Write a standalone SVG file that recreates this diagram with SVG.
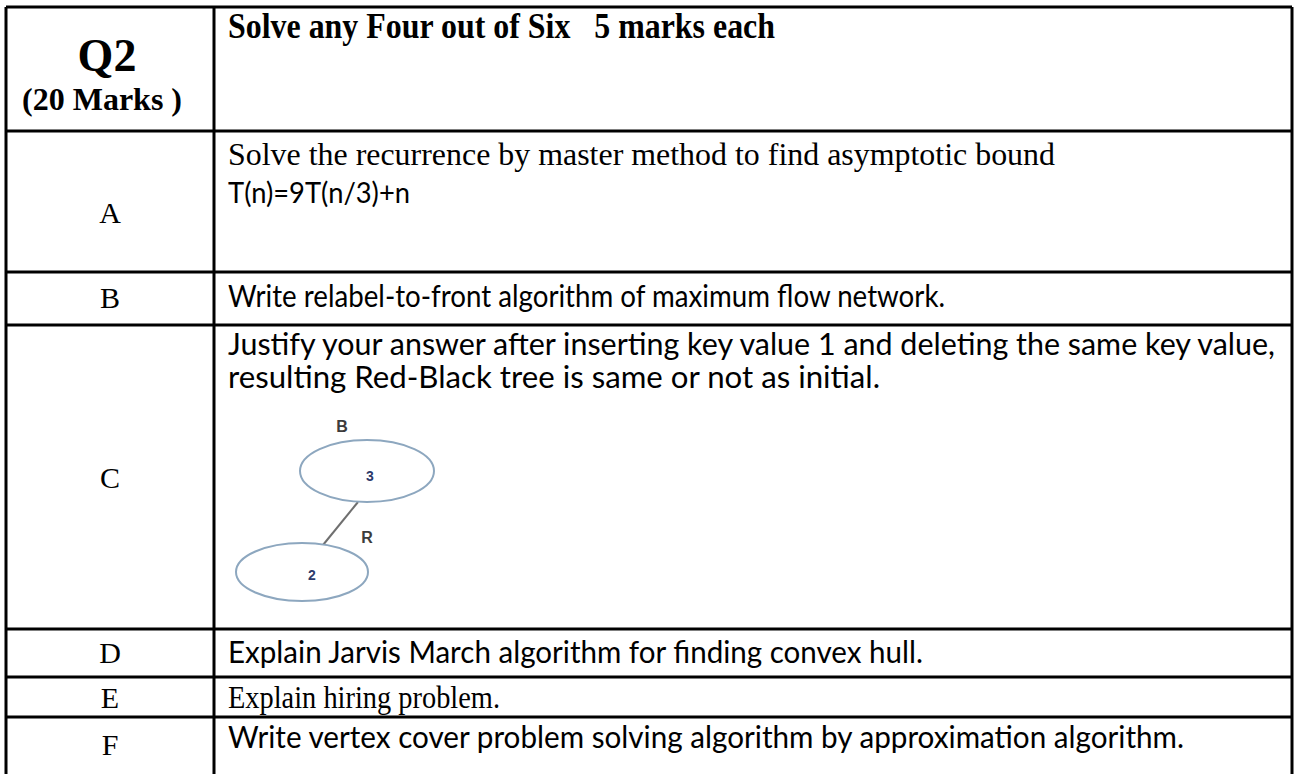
<svg xmlns="http://www.w3.org/2000/svg" width="1295" height="774" viewBox="0 0 1295 774">
  <style>
    .grid { stroke: #000; stroke-width: 3; fill: none; }
    .serif { font-family: "Liberation Serif", "Times New Roman", serif; font-size: 30px; fill: #000; }
    .tall { font-size: 32px; }
    .bold { font-weight: bold; }
    .sans { font-family: Lato, "Liberation Sans", sans-serif; font-size: 30px; fill: #000; }
    .label { text-anchor: middle; }
    .node { fill: #fff; stroke: #8da7bf; stroke-width: 2; }
    .edge { stroke: #6f6f6f; stroke-width: 2; }
    .color { font-family: "Liberation Sans", Arial, sans-serif; font-size: 16px; font-weight: bold; fill: #3c3c3c; text-anchor: middle; }
    .key { font-family: "Liberation Sans", Arial, sans-serif; font-size: 14px; font-weight: bold; fill: #2c3a6a; text-anchor: middle; }
  </style>

  <rect width="1295" height="774" fill="#fff"/>

  <!-- table rules -->
  <g id="table" class="grid">
    <line x1="6" y1="7" x2="1292" y2="7"/>
    <line x1="6" y1="7" x2="6" y2="774"/>
    <line x1="214" y1="7" x2="214" y2="774"/>
    <line x1="1292" y1="7" x2="1292" y2="774"/>
    <line x1="6" y1="131" x2="1292" y2="131"/>
    <line x1="6" y1="272" x2="1292" y2="272"/>
    <line x1="6" y1="325" x2="1292" y2="325"/>
    <line x1="6" y1="629" x2="1292" y2="629"/>
    <line x1="6" y1="677" x2="1292" y2="677"/>
    <line x1="6" y1="717" x2="1292" y2="717"/>
  </g>

  <!-- header row -->
  <g id="header">
    <text class="serif bold label" x="107" y="71" style="font-size:46px">Q2</text>
    <text class="serif bold label" x="102" y="110" style="font-size:32px" xml:space="preserve">(20 Marks )</text>
    <text class="serif bold" x="228" y="38" style="font-size:35px" textLength="547" lengthAdjust="spacingAndGlyphs" xml:space="preserve">Solve any Four out of Six   5 marks each</text>
  </g>

  <!-- question A -->
  <g id="row-a">
    <text class="serif label" x="110" y="223">A</text>
    <text class="serif tall" x="228" y="165" textLength="827" lengthAdjust="spacingAndGlyphs">Solve the recurrence by master method to find asymptotic bound</text>
    <text class="sans" x="228" y="203" style="font-size:29px" textLength="182" lengthAdjust="spacingAndGlyphs">T(n)=9T(n/3)+n</text>
  </g>

  <!-- question B -->
  <g id="row-b">
    <text class="serif label" x="110" y="308">B</text>
    <text class="sans" x="228" y="307" textLength="717" lengthAdjust="spacingAndGlyphs">Write relabel-to-front algorithm of maximum flow network.</text>
  </g>

  <!-- question C with the red-black tree sketch -->
  <g id="row-c">
    <text class="serif label" x="110" y="488">C</text>
    <text class="sans" x="228" y="355" textLength="1047" lengthAdjust="spacingAndGlyphs">Justify your answer after inserting key value 1 and deleting the same key value,</text>
    <text class="sans" x="228" y="388" textLength="652" lengthAdjust="spacingAndGlyphs">resulting Red-Black tree is same or not as initial.</text>
  </g>

  <g id="connectors">
    <line class="edge" x1="358" y1="502" x2="323" y2="545"/>
  </g>

  <g id="node-3">
    <ellipse class="node" cx="367" cy="471" rx="67" ry="31"/>
    <text class="color" x="342" y="432">B</text>
    <text class="key" x="370" y="481">3</text>
  </g>

  <g id="node-2">
    <ellipse class="node" cx="302" cy="572" rx="66" ry="29"/>
    <text class="color" x="367" y="543">R</text>
    <text class="key" x="312" y="580">2</text>
  </g>

  <!-- questions D to F -->
  <g id="row-d">
    <text class="serif label" x="110" y="663">D</text>
    <text class="sans" x="228" y="663" textLength="695" lengthAdjust="spacingAndGlyphs">Explain Jarvis March algorithm for finding convex hull.</text>
  </g>

  <g id="row-e">
    <text class="serif label" x="110" y="708">E</text>
    <text class="serif tall" x="228" y="708" textLength="272" lengthAdjust="spacingAndGlyphs">Explain hiring problem.</text>
  </g>

  <g id="row-f">
    <text class="serif label" x="110" y="755">F</text>
    <text class="sans" x="228" y="748" textLength="956" lengthAdjust="spacingAndGlyphs">Write vertex cover problem solving algorithm by approximation algorithm.</text>
  </g>
</svg>
